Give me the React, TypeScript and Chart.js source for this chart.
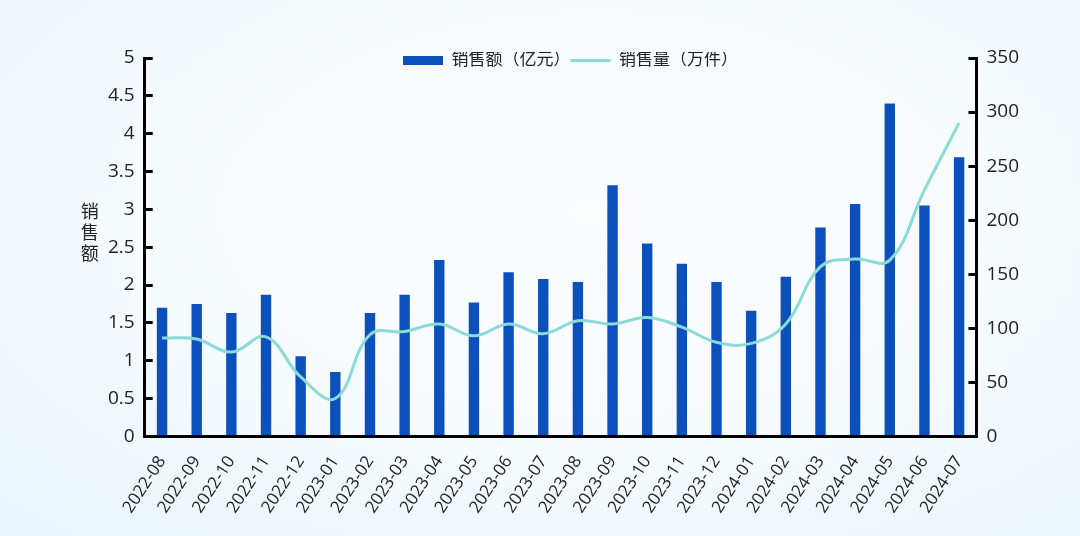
import React, { useEffect, useRef } from 'react';
import { Chart, registerables } from 'chart.js';

Chart.register(...registerables);

const months = [
  '2022-08', '2022-09', '2022-10', '2022-11', '2022-12', '2023-01',
  '2023-02', '2023-03', '2023-04', '2023-05', '2023-06', '2023-07',
  '2023-08', '2023-09', '2023-10', '2023-11', '2023-12', '2024-01',
  '2024-02', '2024-03', '2024-04', '2024-05', '2024-06', '2024-07',
];

// 销售额（亿元）
const salesAmount = [
  1.7, 1.75, 1.63, 1.87, 1.06, 0.85,
  1.63, 1.87, 2.33, 1.77, 2.17, 2.08,
  2.04, 3.32, 2.55, 2.28, 2.04, 1.66,
  2.11, 2.76, 3.07, 4.4, 3.05, 3.69,
];

// 销售量（万件）
const salesVolume = [
  91, 90, 78, 92, 55, 35,
  94, 97, 104, 93, 104, 95,
  107, 104, 110, 101, 87, 86,
  104, 157, 164, 163, 228, 290,
];

const amountLabel = '销售额（亿元）';
const volumeLabel = '销售量（万件）';
const axisTitle = ['销', '售', '额'];

const FONT = "'Open Sans', 'Noto Sans CJK SC', sans-serif";
const BAR_COLOR = '#0c50bd';
const LINE_COLOR = '#8adad8';

// legend sits over the top of the plot, so it takes no layout height
const legendOverlay = {
  id: 'legendOverlay',
  beforeLayout(chart: any) {
    const legend = chart.legend;
    if (!legend || legend._patched) return;
    const fit = legend.fit;
    legend.fit = function () {
      fit.call(this);
      this.height = 0;
    };
    legend._patched = true;
  },
  afterLayout(chart: any) {
    const legend = chart.legend;
    if (!legend) return;
    legend.top = 52;
    legend.height = 24;
    legend.bottom = 76;
    legend.left += 7;
    legend.right += 7;
  },
};

// upright, stacked y axis title
const stackedTitle = {
  id: 'stackedTitle',
  afterDraw(chart: any) {
    const { ctx, chartArea } = chart;
    const mid = (chartArea.top + chartArea.bottom) / 2 - 13;
    ctx.save();
    ctx.font = `18px ${FONT}`;
    ctx.fillStyle = '#222';
    ctx.textAlign = 'center';
    ctx.textBaseline = 'middle';
    axisTitle.forEach((ch, i) => {
      ctx.fillText(ch, chartArea.left - 55, mid + (i - 1) * 21);
    });
    ctx.restore();
  },
};

const SalesChart: React.FC = () => {
  const chartRef = useRef<HTMLCanvasElement>(null);
  const chartInstance = useRef<Chart | null>(null);

  useEffect(() => {
    if (!chartRef.current) return;
    const ctx = chartRef.current.getContext('2d');
    if (!ctx) return;
    if (chartInstance.current) chartInstance.current.destroy();

    const tickFont = { family: FONT, size: 19 };

    chartInstance.current = new Chart(ctx, {
      type: 'bar',
      data: {
        labels: months,
        datasets: [
          {
            type: 'bar',
            label: amountLabel,
            data: salesAmount,
            backgroundColor: BAR_COLOR,
            borderWidth: 0,
            barPercentage: 0.3,
            categoryPercentage: 1,
            yAxisID: 'y',
            order: 1,
          },
          {
            type: 'line',
            label: volumeLabel,
            data: salesVolume,
            borderColor: LINE_COLOR,
            backgroundColor: LINE_COLOR,
            borderWidth: 3,
            pointRadius: 0,
            pointStyle: 'line',
            tension: 0.4,
            yAxisID: 'y1',
            order: 0,
          } as any,
        ],
      },
      options: {
        responsive: true,
        maintainAspectRatio: false,
        animation: false,
        layout: { padding: { top: 58, left: 90, right: 43, bottom: 11 } },
        plugins: {
          tooltip: { enabled: false },
          legend: {
            position: 'top',
            labels: {
              usePointStyle: true,
              pointStyleWidth: 40,
              boxHeight: 9,
              padding: 0,
              color: '#222',
              font: { family: FONT, size: 17 },
              sort: (a: any, b: any) => a.datasetIndex - b.datasetIndex,
              generateLabels: (chart: any) =>
                Chart.defaults.plugins.legend.labels
                  .generateLabels(chart)
                  .map((item: any) => ({
                    ...item,
                    pointStyle: item.datasetIndex === 0 ? 'rect' : 'line',
                    lineWidth: item.datasetIndex === 0 ? 0 : 3,
                  })),
            },
          },
        },
        scales: {
          x: {
            grid: { display: false },
            border: { display: true, color: '#000', width: 3 },
            ticks: {
              color: '#222',
              font: { family: FONT, size: 17 },
              autoSkip: false,
              minRotation: 57,
              maxRotation: 57,
              padding: 8,
            },
          },
          y: {
            position: 'left',
            min: 0,
            max: 5,
            border: { display: true, color: '#000', width: 3 },
            grid: {
              drawOnChartArea: false,
              drawTicks: true,
              tickLength: -8,
              color: '#000',
              lineWidth: 3,
            },
            ticks: {
              stepSize: 0.5,
              color: '#222',
              font: tickFont,
              padding: 18,
              callback: (v: any) => String(Number(v)),
            },
          },
          y1: {
            position: 'right',
            min: 0,
            max: 350,
            border: { display: true, color: '#000', width: 3 },
            grid: {
              drawOnChartArea: false,
              drawTicks: true,
              tickLength: -8,
              color: '#000',
              lineWidth: 3,
            },
            ticks: {
              stepSize: 50,
              color: '#222',
              font: tickFont,
              padding: 18,
            },
          },
        },
      },
      plugins: [legendOverlay, stackedTitle],
    });

    return () => {
      if (chartInstance.current) {
        chartInstance.current.destroy();
        chartInstance.current = null;
      }
    };
  }, []);

  return (
    <div
      style={{
        position: 'absolute',
        left: 0,
        top: 0,
        width: 1080,
        height: 536,
        background:
          'radial-gradient(ellipse at 55% 40%, #fbfdfe 0%, #f5fafd 55%, #e9f4fa 100%)',
      }}
    >
      <canvas ref={chartRef} />
    </div>
  );
};

export default function App() {
  return <SalesChart />;
}
